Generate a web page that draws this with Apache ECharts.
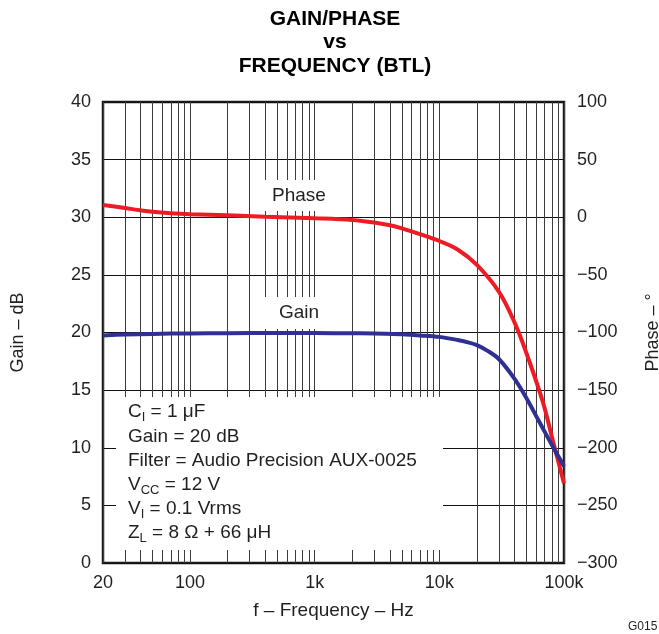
<!DOCTYPE html>
<html>
<head>
<meta charset="utf-8">
<script src="https://cdn.jsdelivr.net/npm/echarts@6/dist/echarts.min.js"></script>
<style>
html,body{margin:0;padding:0;background:#fff;}
#chart{width:659px;height:634px;}
</style>
</head>
<body>
<div id="chart"></div>
<script>
// ---- Data ----
const gainFreq = [20, 30, 50, 100, 200, 500, 1000, 2000, 3000, 5000, 7000, 10000, 14000, 17600, 20000, 24000, 30000, 40000, 50000, 63000, 79000, 100000];
const gainDb   = [19.75, 19.82, 19.88, 19.92, 19.94, 19.95, 19.95, 19.93, 19.92, 19.84, 19.75, 19.62, 19.35, 19.1, 18.9, 18.45, 17.7, 16.0, 14.3, 12.3, 10.35, 8.4];

const phaseFreq = [20, 30, 40, 50, 70, 100, 200, 400, 1000, 2000, 3000, 4000, 5000, 6000, 7000, 8000, 10000, 14000, 20000, 30000, 40000, 50000, 68000, 81000, 100000];
const phaseDeg  = [10.6, 8.0, 6.0, 4.7, 3.5, 2.7, 1.7, 0.5, -0.9, -2.4, -4.6, -7.0, -9.6, -12.3, -14.7, -16.9, -20.6, -28, -41.4, -64.6, -91, -118, -161, -193, -231];

const xGridValues = [20, 30, 40, 50, 60, 70, 80, 90,
  100, 200, 300, 400, 500, 600, 700, 800, 900,
  1000, 2000, 3000, 4000, 5000, 6000, 7000, 8000, 9000,
  10000, 20000, 30000, 40000, 50000, 60000, 70000, 80000, 90000, 100000];
const xLabelValues = [20, 100, 1000, 10000, 100000];
const xLabelText   = ['20', '100', '1k', '10k', '100k'];

const gainAxis  = { min: 0, max: 40, interval: 5 };
const phaseAxis = { min: -300, max: 100, interval: 50 };

const titleLines = ['GAIN/PHASE', 'vs', 'FREQUENCY (BTL)'];
const annotationLines = [
  '{n|C}{s|I}{n| = 1 \u03bcF}',
  '{n|Gain = 20 dB}',
  '{n|Filter = Audio Precision AUX-0025}',
  '{n|V}{s|CC}{n| = 12 V}',
  '{n|V}{s|I}{n| = 0.1 Vrms}',
  '{n|Z}{s|L}{n| = 8 \u03a9 + 66 \u03bcH}'
];

// ---- Chart ----
const FONT = "'Liberation Sans', Arial, Helvetica, sans-serif";
const TXT = '#231f20';
const chart = echarts.init(document.getElementById('chart'), null, { renderer: 'canvas' });

const minusFmt = v => (v < 0 ? '\u2212' + Math.abs(v) : String(v));

chart.setOption({
  animation: false,
  backgroundColor: '#fff',
  title: {
    text: titleLines.join('\n'),
    left: 335, top: 7, textAlign: 'center', padding: 0,
    textStyle: { fontFamily: FONT, fontSize: 21, fontWeight: 'bold', lineHeight: 23.5, color: '#000' }
  },
  grid: {
    left: 103, right: 95, top: 102, bottom: 71,
    outerBoundsMode: 'none', containLabel: false,
    show: true, borderColor: '#1a1a1a', borderWidth: 2.5, backgroundColor: 'transparent'
  },
  xAxis: {
    type: 'log', logBase: 10, min: 20, max: 100000,
    name: 'f \u2013 Frequency \u2013 Hz', nameLocation: 'middle', nameGap: 38,
    nameTextStyle: { fontFamily: FONT, fontSize: 19, color: TXT },
    axisLine: { show: false },
    axisTick: { show: false, customValues: xGridValues },
    axisLabel: {
      customValues: xLabelValues, margin: 11,
      fontFamily: FONT, fontSize: 18, color: TXT,
      formatter: v => { const i = xLabelValues.indexOf(Math.round(v)); return i >= 0 ? xLabelText[i] : ''; }
    },
    splitLine: { show: true, lineStyle: { color: '#3c3c3c', width: 1 } }
  },
  yAxis: [
    {
      type: 'value', position: 'left', min: gainAxis.min, max: gainAxis.max, interval: gainAxis.interval,
      name: 'Gain \u2013 dB', nameLocation: 'middle', nameGap: 76,
      nameTextStyle: { fontFamily: FONT, fontSize: 18, color: TXT },
      axisLine: { show: false }, axisTick: { show: false },
      axisLabel: { margin: 12, fontFamily: FONT, fontSize: 18, color: TXT },
      splitLine: { show: true, lineStyle: { color: '#111', width: 1 } }
    },
    {
      type: 'value', position: 'right', min: phaseAxis.min, max: phaseAxis.max, interval: phaseAxis.interval,
      name: 'Phase \u2013 \u00b0', nameLocation: 'middle', nameGap: 80,
      nameTextStyle: { fontFamily: FONT, fontSize: 18, color: TXT },
      axisLine: { show: false }, axisTick: { show: false },
      axisLabel: { margin: 13, fontFamily: FONT, fontSize: 18, color: TXT, formatter: minusFmt },
      splitLine: { show: false }
    }
  ],
  graphic: [
    { type: 'rect', z: 1, silent: true, shape: { x: 116, y: 397, width: 327, height: 153 }, style: { fill: '#fff' } },
    { type: 'rect', z: 1, silent: true, shape: { x: 257, y: 180, width: 84, height: 31 }, style: { fill: '#fff' } },
    { type: 'rect', z: 1, silent: true, shape: { x: 257, y: 297, width: 84, height: 32 }, style: { fill: '#fff' } },
    { type: 'text', z: 3, x: 299, y: 196, style: { text: 'Phase', fontFamily: FONT, fontSize: 19, fill: TXT, align: 'center', verticalAlign: 'middle' } },
    { type: 'text', z: 3, x: 299, y: 313, style: { text: 'Gain', fontFamily: FONT, fontSize: 19, fill: TXT, align: 'center', verticalAlign: 'middle' } },
    { type: 'text', z: 3, x: 128, y: 400, style: {
        text: annotationLines.join('\n'), fontFamily: FONT, fontSize: 19, fill: TXT, align: 'left', verticalAlign: 'top',
        rich: {
          n: { fontFamily: FONT, fontSize: 19, lineHeight: 24.2, fill: TXT },
          s: { fontFamily: FONT, fontSize: 13, lineHeight: 12, fill: TXT, verticalAlign: 'bottom' }
        }
    } },
    { type: 'text', z: 3, x: 628, y: 627, style: { text: 'G015', fontFamily: FONT, fontSize: 12, fill: TXT, align: 'left', verticalAlign: 'middle' } }
  ],
  series: [
    {
      name: 'Phase', type: 'line', yAxisIndex: 1, smooth: 0.35, showSymbol: false, z: 3,
      lineStyle: { color: '#ed1c24', width: 4 },
      data: phaseFreq.map((f, i) => [f, phaseDeg[i]])
    },
    {
      name: 'Gain', type: 'line', yAxisIndex: 0, smooth: 0.35, showSymbol: false, z: 4,
      lineStyle: { color: '#2e3192', width: 4 },
      data: gainFreq.map((f, i) => [f, gainDb[i]])
    }
  ]
});
</script>
</body>
</html>
